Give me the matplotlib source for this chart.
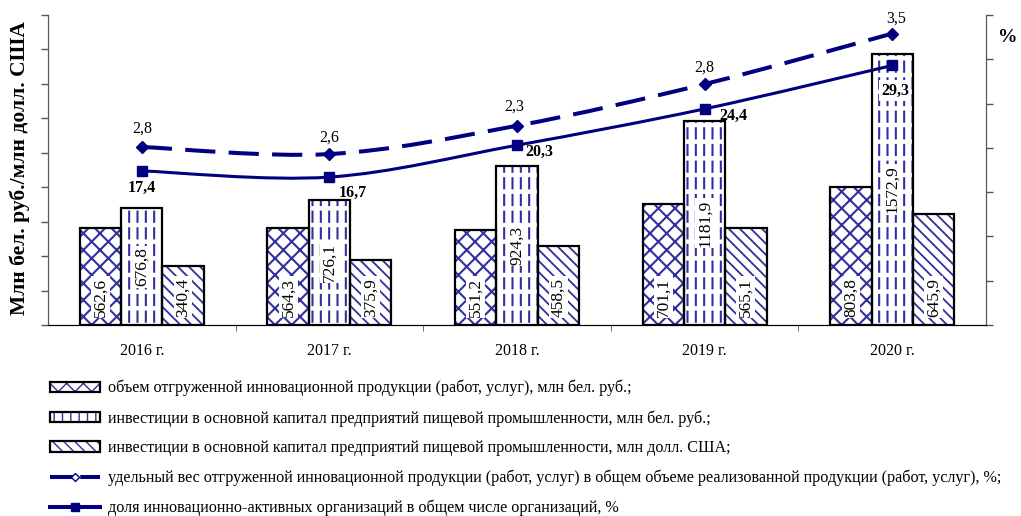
import matplotlib
matplotlib.use('Agg')
import matplotlib.pyplot as plt
import numpy as np
from matplotlib.path import Path
from matplotlib.patches import PathPatch, Patch
from matplotlib.lines import Line2D
from matplotlib.legend_handler import HandlerTuple

# ---------------- data ----------------
years = ['2016 г.', '2017 г.', '2018 г.', '2019 г.', '2020 г.']
shipped_innov_byn = [562.6, 564.3, 551.2, 701.1, 803.8]
invest_byn = [676.8, 726.1, 924.3, 1181.9, 1572.9]
invest_usd = [340.4, 375.9, 458.5, 565.1, 645.9]
share_shipped = [2.8, 2.6, 2.3, 2.8, 3.5]              # labelled values, %
share_shipped_drawn = [20.1, 19.3, 22.5, 27.2, 32.9]   # heights at which the source drew this line on the % axis
share_active = [17.4, 16.7, 20.3, 24.4, 29.3]

legend_labels = [
    'объем отгруженной инновационной продукции (работ, услуг), млн бел. руб.;',
    'инвестиции в основной капитал предприятий пищевой промышленности, млн бел. руб.;',
    'инвестиции в основной капитал предприятий пищевой промышленности, млн долл. США;',
    'удельный вес отгруженной инновационной продукции (работ, услуг) в общем объеме реализованной продукции (работ, услуг), %;',
    'доля инновационно-активных организаций в общем числе организаций, %',
]
y_label = 'Млн бел. руб./млн долл. США'
y2_label = '%'

# ---------------- style ----------------
plt.rcParams['font.family'] = ['Liberation Serif', 'DejaVu Serif']
NAVY = '#000080'
HATCH = '#3030a0'
fmt = lambda v: f'{v:.1f}'.replace('.', ',')

W, H = 1021, 516
fig = plt.figure(figsize=(W / 100, H / 100), dpi=100)
ax = fig.add_axes([48 / W, 1 - 325 / H, (986 - 48) / W, (325 - 15) / H])
ax2 = ax.twinx()

x = np.arange(len(years))
bw = 0.22
series = [shipped_innov_byn, invest_byn, invest_usd]
hatches = ['xx', '||', '\\\\\\']
hatch_lw = [1.5, 1.5, 1.3]

legend_handles = []
for i, (vals, h, hl) in enumerate(zip(series, hatches, hatch_lw)):
    pos = x + (i - 1) * bw
    parts = []
    with plt.rc_context({'hatch.linewidth': hl}):
        ax.bar(pos, vals, bw, color='white', edgecolor=HATCH, linewidth=0, hatch=h, zorder=2)
        parts.append(Patch(facecolor='white', edgecolor=HATCH, linewidth=0, hatch=h))
    if i == 1:
        with plt.rc_context({'hatch.linewidth': 3.2}):
            ax.bar(pos, vals, bw, fill=False, edgecolor='white', linewidth=0, hatch='-', zorder=2.5)
            parts.append(Patch(fill=False, edgecolor='white', linewidth=0, hatch='-'))
    ax.bar(pos, vals, bw, fill=False, edgecolor='black', linewidth=1.6, zorder=3)
    parts.append(Patch(fill=False, edgecolor='black', linewidth=1.6))
    legend_handles.append(tuple(parts))
    for xp, v in zip(pos, vals):
        if i == 1:
            ax.text(xp, v / 2, fmt(v), rotation=90, ha='center', va='center', fontsize=12.5,
                    zorder=4, bbox=dict(facecolor='white', edgecolor='none', pad=1))
        else:
            ax.annotate(fmt(v), (xp, 0), xytext=(0, 6), textcoords='offset points',
                        rotation=90, ha='center', va='bottom', fontsize=12.5, zorder=4,
                        bbox=dict(facecolor='white', edgecolor='none', pad=1))


def smooth_path(xs, ys):
    pts = np.column_stack([xs, ys]).astype(float)
    n = len(pts)
    verts = [pts[0]]
    codes = [Path.MOVETO]
    for k in range(n - 1):
        p0 = pts[k - 1] if k > 0 else pts[k]
        p1, p2 = pts[k], pts[k + 1]
        p3 = pts[k + 2] if k + 2 < n else pts[k + 1]
        verts += [p1 + (p2 - p0) / 6, p2 - (p3 - p1) / 6, p2]
        codes += [Path.CURVE4] * 3
    return Path(verts, codes)


# dashed line (share of shipped innovative products)
ax2.add_patch(PathPatch(smooth_path(x, share_shipped_drawn), fill=False, edgecolor=NAVY,
                        linewidth=2.9, linestyle=(0, (7.5, 3.3)), zorder=5))
ax2.plot(x, share_shipped_drawn, ls='none', marker='D', ms=6, color=NAVY, zorder=6)
dash_off = [(0, 13), (0, 12), (-2, 14), (0, 12), (3, 11)]
for xi, yv, lab, off in zip(x, share_shipped_drawn, share_shipped, dash_off):
    ax2.annotate(fmt(lab), (xi, yv), xytext=off, textcoords='offset points',
                 ha='center', va='center', fontsize=11.5, zorder=7)

# solid line (share of innovation-active organisations)
ax2.add_patch(PathPatch(smooth_path(x, share_active), fill=False, edgecolor=NAVY,
                        linewidth=2.2, zorder=5))
ax2.plot(x, share_active, ls='none', marker='s', ms=7, color=NAVY, zorder=6)
solid_off = [(0, -12), (17, -11.5), (16, -5), (21, -5), (2, -18)]
for k, (xi, yv, off) in enumerate(zip(x, share_active, solid_off)):
    kw = dict(bbox=dict(facecolor='white', edgecolor='none', pad=1.5)) if k == 4 else {}
    ax2.annotate(fmt(yv), (xi, yv), xytext=off, textcoords='offset points',
                 ha='center', va='center', fontsize=11.5, fontweight='bold', zorder=7, **kw)

# axes
ax.set_xlim(-0.5, len(years) - 0.5)
ax.set_ylim(0, 1800)
ax.set_yticks(np.arange(0, 1801, 200))
ax2.set_ylim(0, 35)
ax2.set_yticks(np.arange(0, 36, 5))
ax.set_xticks(x, years, fontsize=11.5)
ax.set_xticks(x[:-1] + 0.5, minor=True)
ax.tick_params(axis='x', which='major', length=0, pad=13)
ax.tick_params(axis='x', which='minor', length=4, color='#555555')
ax.tick_params(axis='y', labelleft=False, length=5, color='#555555', width=1)
ax2.tick_params(axis='y', labelright=False, length=5, color='#555555', width=1)
for a in (ax, ax2):
    a.spines['top'].set_visible(False)
    a.spines['left'].set_color('#555555')
    a.spines['right'].set_color('#555555')
    a.spines['bottom'].set_color('black')
ax.set_zorder(1)
ax2.set_zorder(2)

fig.text(20 / W, 1 - 168 / H, y_label, rotation=90, ha='center', va='center',
         fontsize=15.5, fontweight='bold')
fig.text(1008 / W, 1 - 38 / H, y2_label, ha='center', va='center', fontsize=14, fontweight='bold')

legend_handles.append(Line2D([], [], color=NAVY, lw=2.9, ls=(0, (6, 1.5)), marker='D',
                             ms=4, mfc='white', mec=NAVY))
legend_handles.append(Line2D([], [], color=NAVY, lw=2.9, marker='s', ms=6))
fig.legend(legend_handles, legend_labels, loc='upper left', bbox_to_anchor=(50 / W, 1 - 380 / H),
           frameon=False, fontsize=11.6, borderpad=0, borderaxespad=0, handlelength=3.1,
           handleheight=0.6, handletextpad=0.5, labelspacing=0.84,
           handler_map={tuple: HandlerTuple(ndivide=1, pad=0)})

fig.savefig('out.png', dpi=100)
